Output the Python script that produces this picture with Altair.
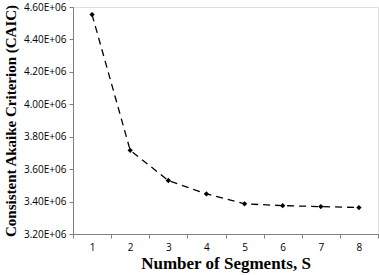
import altair as alt
import pandas as pd

segments = ["1", "2", "3", "4", "5", "6", "7", "8"]
caic = [4553000, 3716000, 3530000, 3447000, 3386000, 3375000, 3369000, 3363000]

df = pd.DataFrame({"S": segments, "CAIC": caic})

x = alt.X(
    "S:O",
    sort=segments,
    scale=alt.Scale(type="band", paddingInner=0, paddingOuter=0),
    axis=alt.Axis(
        title="Number of Segments, S",
        labelAngle=0,
        tickBand="extent",
        domainColor="#808080",
        tickColor="#808080",
        tickSize=4,
        labelFont="Open Sans",
        labelFontSize=10,
        labelColor="#000000",
        labelPadding=4,
        titleFont="Liberation Serif",
        titleFontSize=17,
        titleFontWeight="bold",
        titleColor="#000000",
        titlePadding=3,
        grid=False,
    ),
)
y = alt.Y(
    "CAIC:Q",
    scale=alt.Scale(domain=[3200000, 4600000], nice=False, zero=False),
    axis=alt.Axis(
        title="Consistent Akaike Criterion (CAIC)",
        values=[3200000, 3400000, 3600000, 3800000, 4000000, 4200000, 4400000, 4600000],
        labelExpr="format(datum.value/1000000, '.2f') + 'E+06'",
        domainColor="#808080",
        tickColor="#808080",
        tickSize=4,
        labelFont="Open Sans",
        labelFontSize=10,
        labelColor="#000000",
        labelPadding=3,
        titleFont="Liberation Serif",
        titleFontSize=15,
        titleFontWeight="bold",
        titleColor="#000000",
        titlePadding=5,
        grid=False,
    ),
)

line = alt.Chart(df).mark_line(color="#000000", strokeWidth=1.3, strokeDash=[7, 5]).encode(x=x, y=y)
pts = alt.Chart(df).mark_point(shape="diamond", filled=True, color="#000000", size=28, opacity=1).encode(x=x, y=y)

chart = (
    alt.layer(line, pts)
    .properties(
        width=305,
        height=227,
        padding={"left": 73, "top": 7, "right": 1, "bottom": 41},
        autosize=alt.AutoSizeParams(type="none"),
    )
    .configure_view(stroke=None)
    .configure(background="#ffffff")
)

chart.save("out.html", embed_options={"renderer": "svg", "actions": False})
